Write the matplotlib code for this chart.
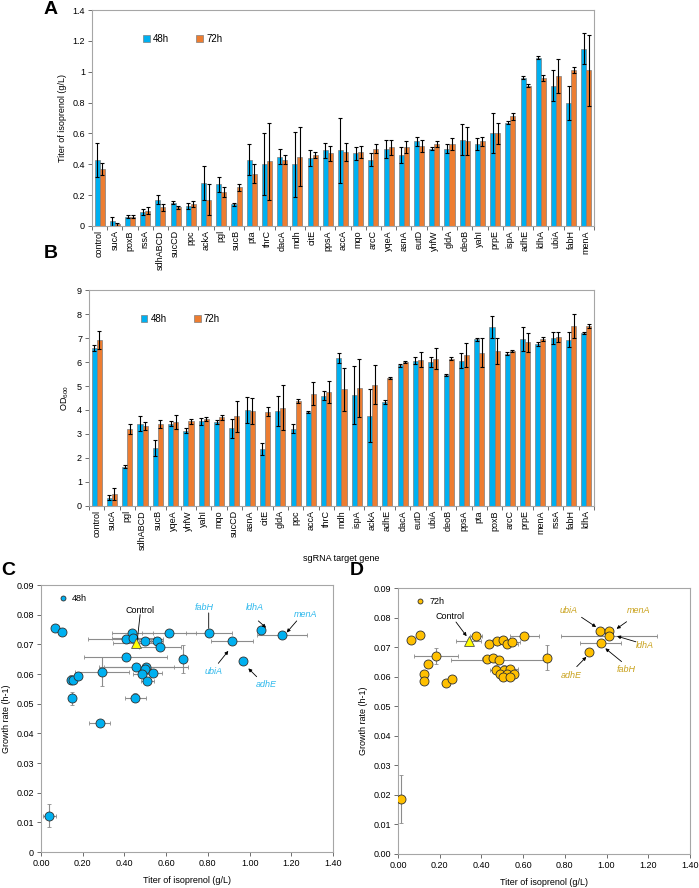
import numpy as np
import matplotlib
matplotlib.use("Agg")
import matplotlib.pyplot as plt
from matplotlib.ticker import FixedLocator, FormatStrFormatter

plt.rcParams['font.family'] = ['Liberation Sans', 'DejaVu Sans']
plt.rcParams['mathtext.default'] = 'regular'

# panel A: isoprenol titer (g/L)
genes_a = ['control', 'sucA', 'poxB', 'rssA', 'sdhABCD', 'sucCD', 'ppc', 'ackA', 'pgl', 'sucB',
           'pta', 'thrC', 'dacA', 'mdh', 'citE', 'ppsA', 'accA', 'mqo', 'arcC', 'yqeA', 'asnA',
           'eutD', 'yhfW', 'gldA', 'deoB', 'yahI', 'prpE', 'ispA', 'adhE', 'ldhA', 'ubiA', 'fabH', 'menA']
titer_48 = [0.43, 0.03, 0.06, 0.09, 0.17, 0.15, 0.13, 0.28, 0.27, 0.14, 0.43, 0.40, 0.45, 0.40, 0.44,
            0.49, 0.49, 0.47, 0.43, 0.50, 0.46, 0.55, 0.50, 0.50, 0.56, 0.53, 0.60, 0.67, 0.96, 1.09,
            0.91, 0.80, 1.15]
titer_48_err = [0.11, 0.03, 0.01, 0.02, 0.03, 0.01, 0.02, 0.11, 0.05, 0.01, 0.10, 0.20, 0.05, 0.21,
                0.05, 0.05, 0.21, 0.04, 0.04, 0.06, 0.05, 0.03, 0.01, 0.03, 0.10, 0.04, 0.13, 0.01,
                0.01, 0.01, 0.10, 0.11, 0.10]
titer_72 = [0.37, 0.01, 0.06, 0.10, 0.12, 0.12, 0.14, 0.17, 0.22, 0.25, 0.34, 0.42, 0.43, 0.45, 0.46,
            0.47, 0.48, 0.48, 0.50, 0.51, 0.51, 0.52, 0.53, 0.53, 0.55, 0.55, 0.60, 0.71, 0.91, 0.96,
            0.97, 1.01, 1.01]
titer_72_err = [0.04, 0.01, 0.01, 0.02, 0.02, 0.01, 0.02, 0.10, 0.03, 0.02, 0.06, 0.25, 0.03, 0.19,
                0.02, 0.05, 0.06, 0.04, 0.03, 0.05, 0.04, 0.04, 0.02, 0.04, 0.09, 0.03, 0.07, 0.02,
                0.01, 0.02, 0.11, 0.02, 0.23]

# panel B: OD600
genes_b = ['control', 'sucA', 'pgl', 'sdhABCD', 'sucB', 'yqeA', 'yhfW', 'yahI', 'mqo', 'sucCD',
           'asnA', 'citE', 'gldA', 'ppc', 'accA', 'thrC', 'mdh', 'ispA', 'ackA', 'adhE', 'dacA',
           'eutD', 'ubiA', 'deoB', 'ppsA', 'pta', 'poxB', 'arcC', 'prpE', 'menA', 'rssA', 'fabH', 'ldhA']
od_48 = [6.58, 0.35, 1.63, 3.43, 2.42, 3.43, 3.14, 3.53, 3.50, 3.24, 4.00, 2.39, 3.96, 3.22, 3.92,
         4.60, 6.17, 4.62, 3.77, 4.33, 5.86, 6.06, 6.01, 5.47, 6.06, 6.94, 7.46, 6.35, 6.96, 6.75,
         7.00, 6.93, 7.21]
od_48_err = [0.12, 0.10, 0.06, 0.32, 0.33, 0.10, 0.10, 0.15, 0.10, 0.40, 0.55, 0.25, 0.62, 0.18,
             0.05, 0.20, 0.22, 1.20, 1.12, 0.10, 0.05, 0.15, 0.20, 0.05, 0.30, 0.05, 0.45, 0.05,
             0.50, 0.08, 0.25, 0.30, 0.05]
od_72 = [6.93, 0.50, 3.20, 3.33, 3.42, 3.50, 3.53, 3.64, 3.69, 3.74, 3.96, 3.93, 4.10, 4.37, 4.68,
         4.75, 4.86, 4.92, 5.05, 5.33, 6.00, 6.10, 6.14, 6.14, 6.30, 6.39, 6.46, 6.46, 6.82, 6.96,
         7.03, 7.50, 7.51]
od_72_err = [0.37, 0.25, 0.22, 0.15, 0.15, 0.30, 0.10, 0.08, 0.10, 0.65, 0.55, 0.20, 0.95, 0.07,
             0.48, 0.45, 0.90, 1.20, 0.82, 0.05, 0.05, 0.30, 0.45, 0.07, 0.50, 0.60, 0.55, 0.05,
             0.40, 0.07, 0.20, 0.50, 0.08]

# panel C: growth rate vs titer, 48h
c_x = [0.040, 0.067, 0.102, 0.142, 0.152, 0.177, 0.149, 0.291, 0.282, 0.438, 0.407, 0.440, 0.499,
       0.555, 0.571, 0.612, 0.406, 0.457, 0.503, 0.497, 0.483, 0.538, 0.510, 0.452, 0.681, 0.804,
       0.917, 0.970, 1.056, 1.156]
c_y = [0.0123, 0.0756, 0.0742, 0.0581, 0.0580, 0.0594, 0.0519, 0.0608, 0.0436, 0.0737, 0.0717,
       0.0721, 0.0712, 0.0712, 0.0691, 0.0739, 0.0656, 0.0625, 0.0623, 0.0618, 0.0599, 0.0602,
       0.0575, 0.0520, 0.0651, 0.0739, 0.0710, 0.0643, 0.0749, 0.0733]
c_xerr = [0.03, 0.01, 0.01, 0.01, 0.01, 0.02, 0.01, 0.13, 0.05, 0.10, 0.18, 0.10, 0.03, 0.03, 0.10,
          0.13, 0.20, 0.18, 0.20, 0.03, 0.04, 0.04, 0.03, 0.05, 0.01, 0.11, 0.10, 0.01, 0.01, 0.12]
c_yerr = [0.0038, 0.0005, 0.0005, 0.0015, 0.0015, 0.0008, 0.0022, 0.0050, 0.0008, 0.0008, 0.0008,
          0.0008, 0.0010, 0.0010, 0.0010, 0.0008, 0.0008, 0.0010, 0.0010, 0.0008, 0.0010, 0.0010,
          0.0010, 0.0015, 0.0048, 0.0008, 0.0008, 0.0008, 0.0008, 0.0008]
c_ctrl = (0.455, 0.0706, 0.11, 0.001)

# panel D: growth rate vs titer, 72h
d_x = [0.016, 0.062, 0.107, 0.181, 0.142, 0.126, 0.125, 0.229, 0.260, 0.374, 0.435, 0.473, 0.503,
       0.524, 0.545, 0.606, 0.425, 0.457, 0.484, 0.469, 0.510, 0.537, 0.489, 0.524, 0.557, 0.505,
       0.537, 0.713, 0.915, 0.968, 1.013, 1.013, 0.971]
d_y = [0.0185, 0.0724, 0.0742, 0.0671, 0.0644, 0.0609, 0.0585, 0.0579, 0.0591, 0.0739, 0.0711,
       0.0720, 0.0724, 0.0711, 0.0716, 0.0737, 0.0660, 0.0663, 0.0655, 0.0623, 0.0623, 0.0627,
       0.0610, 0.0608, 0.0610, 0.0599, 0.0599, 0.0664, 0.0685, 0.0753, 0.0753, 0.0737, 0.0713]
d_xerr = [0.01, 0.01, 0.01, 0.105, 0.01, 0.01, 0.01, 0.02, 0.01, 0.03, 0.02, 0.02, 0.02, 0.05, 0.04,
          0.07, 0.02, 0.03, 0.23, 0.03, 0.02, 0.04, 0.02, 0.04, 0.02, 0.02, 0.02, 0.01, 0.01, 0.02,
          0.02, 0.23, 0.10]
d_yerr = [0.0081, 0.0005, 0.0005, 0.0027, 0.0008, 0.0008, 0.0008, 0.0008, 0.0008, 0.0008, 0.0008,
          0.0008, 0.0008, 0.0008, 0.0008, 0.0008, 0.0008, 0.0008, 0.0008, 0.0015, 0.0015, 0.0008,
          0.0008, 0.0008, 0.0008, 0.0008, 0.0008, 0.0043, 0.0008, 0.0008, 0.0008, 0.0008, 0.0008]
d_ctrl = (0.340, 0.0720, 0.06, 0.0008)

BLUE = '#00b0f0'
ORANGE = '#ed7d31'
GOLD = '#ffc000'
SPINE = '#a6a6a6'


def style_box(ax):
    for s in ax.spines.values():
        s.set_color(SPINE)
        s.set_linewidth(0.8)
    ax.tick_params(axis='both', labelsize=6.5, color='#555555', length=3, width=0.6, pad=2)


def bar_panel(ax, genes, v48, e48, v72, e72, ymax, yticks, ytl, ylabel):
    x = np.arange(len(genes))
    w = 0.33
    ekw = dict(ecolor='black', elinewidth=0.8, capsize=1.5, capthick=0.8)
    ax.bar(x - w / 2, v48, w, color=BLUE, edgecolor='#7f7f7f', linewidth=0.5,
           yerr=e48, error_kw=ekw, label='48h')
    ax.bar(x + w / 2, v72, w, color=ORANGE, edgecolor='#7f7f7f', linewidth=0.5,
           yerr=e72, error_kw=ekw, label='72h')
    ax.set_xlim(-0.5, len(genes) - 0.5)
    ax.set_ylim(0, ymax)
    ax.set_yticks(yticks)
    ax.set_yticklabels(ytl)
    ax.set_xticks(x)
    ax.set_xticklabels(genes, rotation=90, fontsize=4.8)
    ax.xaxis.set_minor_locator(FixedLocator(np.arange(-0.5, len(genes), 1)))
    style_box(ax)
    ax.tick_params(axis='x', which='major', length=0, pad=3)
    ax.tick_params(axis='x', which='minor', length=3, color='#555555', width=0.6)
    ax.set_ylabel(ylabel, fontsize=6.5)
    ax.legend(loc='upper left', bbox_to_anchor=(0.085, 0.93), ncol=2, frameon=False,
              fontsize=7, handlelength=0.7, handleheight=0.7, handletextpad=0.3,
              columnspacing=2.8)


def scatter_panel(ax, xs, ys, xe, ye, ctrl, color, label):
    ax.errorbar(xs, ys, xerr=xe, yerr=ye, fmt='none', ecolor='#8c8c8c', elinewidth=0.8,
                capsize=1.3, capthick=0.6, zorder=2)
    ax.errorbar([ctrl[0]], [ctrl[1]], xerr=[ctrl[2]], yerr=[ctrl[3]], fmt='none',
                ecolor='#8c8c8c', elinewidth=0.8, capsize=1.3, capthick=0.6, zorder=2)
    sc = ax.scatter(xs, ys, s=42, color=color, edgecolor='#303030', linewidth=0.6, zorder=3,
                    label=label)
    ax.scatter([ctrl[0]], [ctrl[1]], s=50, marker='^', color='#ffff00', edgecolor='#505050',
               linewidth=0.6, zorder=4)
    ax.set_xlim(0, 1.4)
    ax.set_ylim(0, 0.09)
    ax.set_xticks(np.arange(0, 1.41, 0.2))
    ax.xaxis.set_major_formatter(FormatStrFormatter('%.2f'))
    ax.set_yticks(np.arange(0, 0.091, 0.01))
    style_box(ax)
    ax.set_xlabel('Titer of isoprenol (g/L)', fontsize=6.5, labelpad=6)
    ax.set_ylabel('Growth rate (h-1)', fontsize=6.5, labelpad=4)
    ax.legend(handles=[sc], loc='upper left', bbox_to_anchor=(0.02, 0.995), frameon=False,
              fontsize=6.5, markerscale=0.55, handletextpad=0.0, borderpad=0.3)


def note(ax, xy, xytext, head=True):
    style = '-|>' if head else '-'
    ax.annotate('', xy=xy, xytext=xytext,
                arrowprops=dict(arrowstyle=style, color='black', lw=0.6, mutation_scale=5,
                                shrinkA=0, shrinkB=0), zorder=5)


fig = plt.figure(figsize=(6.99, 8.88), dpi=100)

axA = fig.add_axes([0.1316, 0.7455, 0.7182, 0.2432])
bar_panel(axA, genes_a, titer_48, titer_48_err, titer_72, titer_72_err, 1.4,
          np.arange(0, 1.41, 0.2), ['0', '0.2', '0.4', '0.6', '0.8', '1', '1.2', '1.4'],
          'Titer of isoprenol (g/L)')

axB = fig.add_axes([0.1273, 0.4302, 0.7225, 0.2432])
bar_panel(axB, genes_b, od_48, od_48_err, od_72, od_72_err, 9,
          np.arange(0, 10), [str(i) for i in range(10)], 'OD$_{600}$')
axB.set_xlabel('sgRNA target gene', fontsize=6.5, labelpad=3)

axC = fig.add_axes([0.0587, 0.0405, 0.4177, 0.3007])
scatter_panel(axC, c_x, c_y, c_xerr, c_yerr, c_ctrl, BLUE, '48h')
axC.set_yticklabels(['0'] + ['%.2f' % v for v in np.arange(0.01, 0.091, 0.01)])

axD = fig.add_axes([0.5694, 0.0383, 0.4177, 0.2995])
scatter_panel(axD, d_x, d_y, d_xerr, d_yerr, d_ctrl, GOLD, '72h')
axD.yaxis.set_major_formatter(FormatStrFormatter('%.2f'))

# annotations panel C
cl = '#2db8ec'
axC.text(0.475, 0.0815, 'Control', fontsize=6.5, ha='center', va='center')
note(axC, (0.462, 0.0717), (0.475, 0.0800), head=False)
for txt, tpos, a0, a1, head in [
        ('fabH', (0.783, 0.0824), (0.804, 0.0806), (0.804, 0.0754), False),
        ('ldhA', (1.023, 0.0824), (1.042, 0.0779), (1.079, 0.0756), True),
        ('menA', (1.270, 0.0802), (1.226, 0.0779), (1.178, 0.0740), True),
        ('ubiA', (0.826, 0.0610), (0.850, 0.0636), (0.898, 0.0678), True),
        ('adhE', (1.082, 0.0566), (1.034, 0.0591), (0.994, 0.0619), True)]:
    axC.text(tpos[0], tpos[1], txt, fontsize=6.5, color=cl, style='italic', ha='center',
             va='center')
    note(axC, a1, a0, head=head)

# annotations panel D
gl = '#c9a21c'
axD.text(0.249, 0.0802, 'Control', fontsize=6.5, ha='center', va='center')
note(axD, (0.329, 0.0737), (0.278, 0.0785))
for txt, tpos, a0, a1 in [
        ('ubiA', (0.820, 0.0825), (0.880, 0.0801), (0.950, 0.0768)),
        ('menA', (1.152, 0.0823), (1.096, 0.0786), (1.048, 0.0762)),
        ('ldhA', (1.184, 0.0704), (1.141, 0.0718), (1.050, 0.0737)),
        ('fabH', (1.096, 0.0625), (1.072, 0.0651), (0.994, 0.0696)),
        ('adhE', (0.833, 0.0605), (0.857, 0.0634), (0.903, 0.0667))]:
    axD.text(tpos[0], tpos[1], txt, fontsize=6.5, color=gl, style='italic', ha='center',
             va='center')
    note(axD, a1, a0)

for lab, x, y in [('A', 0.072, 0.989), ('B', 0.072, 0.715), ('C', 0.012, 0.358), ('D', 0.511, 0.358)]:
    fig.text(x, y, lab, fontsize=14, fontweight='bold', ha='center', va='center')

fig.savefig('out.png', dpi=100)
